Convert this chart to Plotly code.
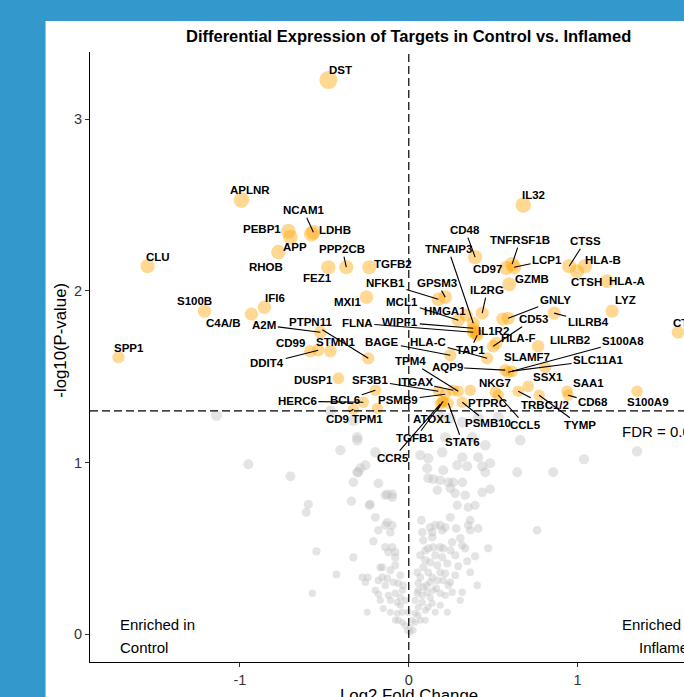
import plotly.graph_objects as go

# ---------------- data ----------------
# targets passing FDR (labelled)
genes = [
    "DST", "APLNR", "NCAM1", "LDHB", "PEBP1", "APP", "RHOB", "CLU", "S100B", "C4A/B",
    "IFI6", "A2M", "PTPN11", "CD99", "DDIT4", "STMN1", "SPP1", "FEZ1", "PPP2CB", "TGFB2",
    "MXI1", "NFKB1", "GPSM3", "MCL1", "HMGA1", "IL2RG", "TNFAIP3", "WIPF1", "FLNA", "IL1R2",
    "TAP1", "BAGE", "HLA-C", "CD48", "IL32", "TNFRSF1B", "LCP1", "CD97", "GZMB", "CTSS",
    "CTSH", "HLA-B", "HLA-A", "LYZ", "LILRB4", "GNLY", "CD53", "HLA-F", "LILRB2", "SLAMF7",
    "AQP9", "S100A8", "SLC11A1", "SSX1", "TRBC1/2", "TYMP", "NKG7", "CCL5", "SAA1", "CD68",
    "S100A9", "CTSD", "PTPRC", "TPM4", "ITGAX", "SF3B1", "PSMB9", "ATOX1", "TGFB1", "CCR5",
    "STAT6", "PSMB10", "DUSP1", "BCL6", "HERC6", "CD9", "TPM1", "",
]
log2fc = [
    -0.476, -0.991, -0.565, -0.577, -0.713, -0.701, -0.772, -1.547, -1.210, -0.932,
    -0.855, -0.524, -0.240, -0.583, -0.536, -0.464, -1.719, -0.476, -0.370, -0.234,
    -0.251, 0.175, 0.216, 0.293, 0.340, 0.435, 0.382, 0.382, 0.382, 0.399,
    0.405, 0.246, 0.464, 0.393, 0.678, 0.612, 0.624, 0.577, 0.595, 0.950,
    0.997, 1.044, 1.175, 1.204, 0.861, 0.589, 0.500, 0.518, 0.766, 0.808,
    0.571, 0.589, 0.612, 0.707, 0.648, 0.772, 0.512, 0.530, 0.938, 0.944,
    1.352, 1.595, 0.364, 0.293, 0.263, 0.175, 0.216, 0.198, 0.204, 0.186,
    0.234, 0.317, -0.417, -0.198, -0.269, -0.328, -0.186, 0.556,
]
neglog10p = [
    3.227, 2.528, 2.341, 2.330, 2.347, 2.312, 2.225, 2.143, 1.881, 1.864,
    1.904, 1.759, 1.607, 1.648, 1.654, 1.648, 1.613, 2.137, 2.137, 2.137,
    1.963, 1.951, 1.963, 1.829, 1.858, 1.870, 1.811, 1.782, 1.759, 1.753,
    1.741, 1.625, 1.607, 2.196, 2.499, 2.155, 2.137, 2.132, 2.038, 2.143,
    2.114, 2.143, 2.056, 1.881, 1.870, 1.840, 1.677, 1.695, 1.677, 1.555,
    1.538, 1.526, 1.532, 1.444, 1.415, 1.392, 1.409, 1.392, 1.415, 1.392,
    1.415, 1.759, 1.421, 1.415, 1.421, 1.415, 1.398, 1.351, 1.357, 1.340,
    1.345, 1.351, 1.491, 1.421, 1.351, 1.310, 1.316, 1.835,
]

# targets not passing FDR
ns_log2fc = [
    -1.139, -0.950, -0.701, -0.405, -0.305, -0.198, -0.257, -0.299, -0.328, -0.595,
    -0.607, -0.340, -0.234, -0.198, -0.180, -0.210, -0.547, -0.328, -0.429, -0.275,
    -0.257, -0.180, -0.571, -0.198, -0.246, -0.169, 0.115, 0.198, 0.317, 0.411,
    0.482, 0.287, 0.346, 0.435, 0.453, 0.109, 0.642, 0.855, 0.660, 0.115,
    0.145, 0.186, 0.234, 0.263, 0.317, 0.246, 0.275, 0.435, 0.482, -0.139,
    -0.098, -0.228, 0.287, 0.352, 0.246, -0.127, -0.139, -0.098, -0.109, 0.364,
    0.127, 0.157, 0.186, 0.216, 0.198, 0.139, 0.080, 0.352, 0.364, 0.411,
    0.760, 0.305, 0.257, 0.139, 0.186, 0.145, 0.246, 0.204, -0.139, -0.098,
    -0.080, -0.080, -0.121, 0.098, 0.470, 0.393, 0.157, 0.198, 0.098, 0.086,
    0.293, 0.346, -0.157, 0.115, 0.139, 0.186, 0.216, 0.169, 0.204, 0.246,
    0.234, 0.068, 0.056, 0.086, 0.056, 0.109, 0.145, 0.080, 0.127, 0.186,
    0.257, 0.317, 0.305, 0.405, -0.157, -0.127, -0.092, -0.062, -0.180, -0.121,
    -0.080, -0.068, -0.050, -0.151, -0.109, -0.068, -0.038, -0.080, -0.038, -0.021,
    0.009, 0.038, 0.068, 0.098, 0.038, 0.056, 0.186, 0.228, 0.157, 0.115,
    0.080, 0.009, -0.009, 0.027, 0.038, 0.050, -0.050, -0.038, 0.050, 0.127,
    0.246, 0.317, 0.411, 0.530, 0.453, 0.216, 0.376, -0.464, -0.328, 0.186,
    1.352, 1.038, -0.305, -0.287, -0.127, -0.098, -0.243, 0.068, -0.305, 0.068,
    0.127, 0.169, 0.228, 0.086, 0.115, 0.275, 0.334, 0.364, 0.275, 0.104,
    0.163, 0.216, 0.139, 0.098, 0.056, 0.021, -0.003, -0.021, -0.033, -0.050,
    -0.080, -0.109, -0.139, -0.169, -0.109, -0.062, -0.180, 0.204, 0.169, 0.334,
    0.393, 0.074, 0.281, 0.317,
]
ns_neglog10p = [
    1.275, 0.990, 0.920, 1.072, 1.147, 1.060, 0.984, 0.944, 0.885, 0.757,
    0.711, 0.775, 0.751, 0.681, 0.606, 0.542, 0.483, 0.448, 0.349, 0.332,
    0.303, 0.314, 0.239, 0.256, 0.128, 0.390, 1.025, 1.060, 1.031, 1.031,
    0.996, 0.984, 0.978, 0.978, 0.944, 0.967, 0.944, 0.944, 1.130, 0.909,
    0.903, 0.897, 0.885, 0.885, 0.885, 0.850, 0.821, 0.827, 0.845, 0.810,
    0.815, 0.757, 0.751, 0.740, 0.681, 0.652, 0.635, 0.635, 0.594, 0.664,
    0.623, 0.635, 0.635, 0.623, 0.606, 0.594, 0.594, 0.635, 0.606, 0.617,
    0.606, 0.559, 0.536, 0.565, 0.507, 0.507, 0.489, 0.501, 0.507, 0.507,
    0.478, 0.448, 0.478, 0.489, 0.501, 0.454, 0.460, 0.448, 0.431, 0.390,
    0.396, 0.425, 0.390, 0.361, 0.332, 0.361, 0.355, 0.314, 0.314, 0.303,
    0.285, 0.332, 0.297, 0.274, 0.256, 0.245, 0.256, 0.227, 0.215, 0.239,
    0.245, 0.245, 0.198, 0.285, 0.332, 0.326, 0.303, 0.297, 0.233, 0.227,
    0.239, 0.186, 0.169, 0.151, 0.128, 0.122, 0.128, 0.082, 0.070, 0.052,
    0.041, 0.070, 0.082, 0.082, 0.122, 0.157, 0.169, 0.128, 0.128, 0.157,
    0.186, 0.012, 0.023, 0.023, 0.198, 0.239, 0.215, 0.256, 0.361, 0.303,
    1.258, 1.235, 1.258, 1.264, 1.101, 1.147, 1.147, 1.299, 1.246, 1.264,
    1.066, 1.019, 0.944, 0.967, 0.815, 0.797, 0.332, 1.043, 1.130, 0.460,
    0.419, 0.402, 0.413, 0.547, 0.501, 0.460, 0.501, 0.361, 0.344, 0.285,
    0.268, 0.227, 0.181, 0.140, 0.111, 0.082, 0.128, 0.198, 0.285, 0.344,
    0.402, 0.373, 0.285, 0.198, 0.198, 0.082, 0.879, 0.955, 0.839, 0.810,
    0.751, 0.664, 0.617, 0.518,
]

FDR_CUTOFF = 0.05
FDR_LINE = 1.301  # -log10(0.05)

# ---------------- label placement (pixel offsets from point, segment flag) ----------------
label_layout = {
    "DST": (12, -10, False), "APLNR": (9, -10, False), "NCAM1": (-10, -22, True),
    "LDHB": (24, -4, False), "PEBP1": (-26, -2, False), "APP": (5, 10, False),
    "RHOB": (-12, 15, False), "CLU": (10, -9, False), "S100B": (-10, -10, False),
    "C4A/B": (-28, 9, False), "IFI6": (11, -9, False), "A2M": (-56, -7, True),
    "PTPN11": (-58, -36, True), "CD99": (-20, -8, False), "DDIT4": (-51, 13, True),
    "STMN1": (6, -9, False), "SPP1": (10, -9, False), "FEZ1": (-11, 11, False),
    "PPP2CB": (-4, -18, True), "TGFB2": (24, -3, False), "MXI1": (-19, 5, False),
    "NFKB1": (-53, -16, True), "GPSM3": (-8, -14, True), "MCL1": (-56, -18, True),
    "HMGA1": (-21, -4, False), "IL2RG": (5, -23, True), "TNFAIP3": (-25, -74, True),
    "WIPF1": (-73, -6, True), "FLNA": (-116, -9, True), "IL1R2": (17, -2, False),
    "TAP1": (-7, 15, True), "BAGE": (-68, -13, True), "HLA-C": (-59, -16, True),
    "CD48": (-10, -27, True), "IL32": (10, -10, False), "TNFRSF1B": (8, -24, True),
    "LCP1": (33, -7, True), "CD97": (-19, 1, False), "GZMB": (23, -5, False),
    "CTSS": (16, -25, True), "CTSH": (9, 11, False), "HLA-B": (18, -6, False),
    "HLA-A": (20, 0, False), "LYZ": (13, -11, False), "LILRB4": (34, 9, True),
    "GNLY": (47, -18, True), "CD53": (40, -27, True), "HLA-F": (22, -5, False),
    "LILRB2": (32, -6, False), "SLAMF7": (-18, -10, False), "AQP9": (-58, -3, True),
    "S100A8": (115, -31, True), "SLC11A1": (86, -11, True), "SSX1": (20, -9, False),
    "TRBC1/2": (27, 14, True), "TYMP": (41, 30, True), "NKG7": (0, -9, False),
    "CCL5": (27, 30, True), "SAA1": (21, -8, False), "CD68": (25, 7, True),
    "S100A9": (11, 11, False), "CTSD": (10, -9, False), "PTPRC": (17, 13, False),
    "TPM4": (-48, -30, True), "ITGAX": (-38, -8, True), "SF3B1": (-68, -11, True),
    "PSMB9": (-47, 6, True), "ATOX1": (-10, 17, True), "TGFB1": (-28, 37, True),
    "CCR5": (-47, 54, True), "STAT6": (14, 39, True), "PSMB10": (26, 21, True),
    "DUSP1": (-25, 2, False), "BCL6": (-30, 10, True), "HERC6": (-66, -1, True),
    "CD9": (-16, 10, True), "TPM1": (-10, 11, False),
}

# ---------------- geometry ----------------
W, H = 684, 697
PLOT_L, PLOT_T = 89.5, 52.0
PLOT_W, PLOT_H = W - PLOT_L, 609.7
X_RANGE = [-1.888, 1.630]
Y_RANGE = [-0.161, 3.390]
FONT = "Liberation Sans, Arial, Helvetica, sans-serif"


def paper(px, py):
    """Convert a window pixel position into paper coordinates."""
    return (px - PLOT_L) / PLOT_W, (PLOT_T + PLOT_H - py) / PLOT_H


def marker_size(v):
    return 6.5 + 3.6 * v


fig = go.Figure()

fig.add_trace(go.Scatter(
    x=ns_log2fc, y=ns_neglog10p, mode="markers",
    marker=dict(color="rgba(190,190,190,0.6)", size=[marker_size(v) for v in ns_neglog10p],
                line=dict(width=0)),
    hoverinfo="skip", showlegend=False, cliponaxis=True,
))
fig.add_trace(go.Scatter(
    x=log2fc, y=neglog10p, mode="markers",
    marker=dict(color="rgba(255,165,0,0.6)", size=[marker_size(v) for v in neglog10p],
                line=dict(width=0)),
    text=genes, hoverinfo="text", showlegend=False, cliponaxis=True,
))

annotations = []
for g, xv, yv in zip(genes, log2fc, neglog10p):
    if not g:
        continue
    dx, dy, seg = label_layout[g]
    common = dict(x=xv, y=yv, xref="x", yref="y", text=g,
                  font=dict(family=FONT, size=11.5, color="#000000", weight="bold"))
    if seg:
        annotations.append(dict(**common, showarrow=True, arrowhead=0, arrowwidth=1.1,
                                arrowcolor="#000000", ax=dx, ay=dy, standoff=0,
                                startstandoff=0))
    else:
        annotations.append(dict(**common, showarrow=False, xshift=dx, yshift=-dy))


def text_at(px, py, text, size, xanchor="center", weight="normal", angle=0, color="#000000"):
    xp, yp = paper(px, py)
    annotations.append(dict(x=xp, y=yp, xref="paper", yref="paper", text=text,
                            showarrow=False, xanchor=xanchor, yanchor="middle",
                            textangle=angle,
                            font=dict(family=FONT, size=size, color=color, weight=weight)))


text_at(408.5, 36, "Differential Expression of Targets in Control vs. Inflamed", 16.5, weight="bold")
text_at(408.5, 695, "Log2 Fold Change", 16.8)
text_at(60, 340, "-log10(P-value)", 16.8, angle=-90)
text_at(118, 624, "Enriched in", 15, xanchor="left")
text_at(118, 647, "Control", 15, xanchor="left")
text_at(699, 624, "Enriched in", 15, xanchor="right")
text_at(699, 647, "Inflamed", 15, xanchor="right")
text_at(620, 431, f"FDR = {FDR_CUTOFF}", 15, xanchor="left")

x0p, y1p = paper(45, 21)
x1p, y0p = paper(W + 60, H + 60)
shapes = [
    # white panel on the blue page
    dict(type="rect", xref="paper", yref="paper", x0=x0p, x1=x1p, y0=y0p, y1=y1p,
         fillcolor="#ffffff", line=dict(width=0), layer="below"),
    # reference lines
    dict(type="line", xref="x", yref="paper", x0=0, x1=0, y0=0, y1=1,
         line=dict(color="#000000", width=1.2, dash="8px,4px")),
    dict(type="line", xref="paper", yref="y", x0=0, x1=1, y0=FDR_LINE, y1=FDR_LINE,
         line=dict(color="#000000", width=1.2, dash="8px,4px")),
]

axis_common = dict(
    showgrid=False, zeroline=False, showline=True, linecolor="#000000", linewidth=1.2,
    ticks="outside", ticklen=4, tickwidth=1.1, tickcolor="#333333",
    tickfont=dict(family=FONT, size=14.5, color="#333333"), automargin=False,
    fixedrange=True,
)

fig.update_layout(
    template="none",
    width=W, height=H,
    margin=dict(l=PLOT_L, r=0, t=PLOT_T, b=H - PLOT_T - PLOT_H, pad=0),
    paper_bgcolor="#3399cc", plot_bgcolor="#ffffff",
    xaxis=dict(range=X_RANGE, tickvals=[-1, 0, 1], ticktext=["-1", "0", "1"],
               mirror=False, **axis_common),
    yaxis=dict(range=Y_RANGE, tickvals=[0, 1, 2, 3], mirror=False, **axis_common),
    annotations=annotations, shapes=shapes, showlegend=False,
)

fig.write_html("out.html", config={"displayModeBar": False})
